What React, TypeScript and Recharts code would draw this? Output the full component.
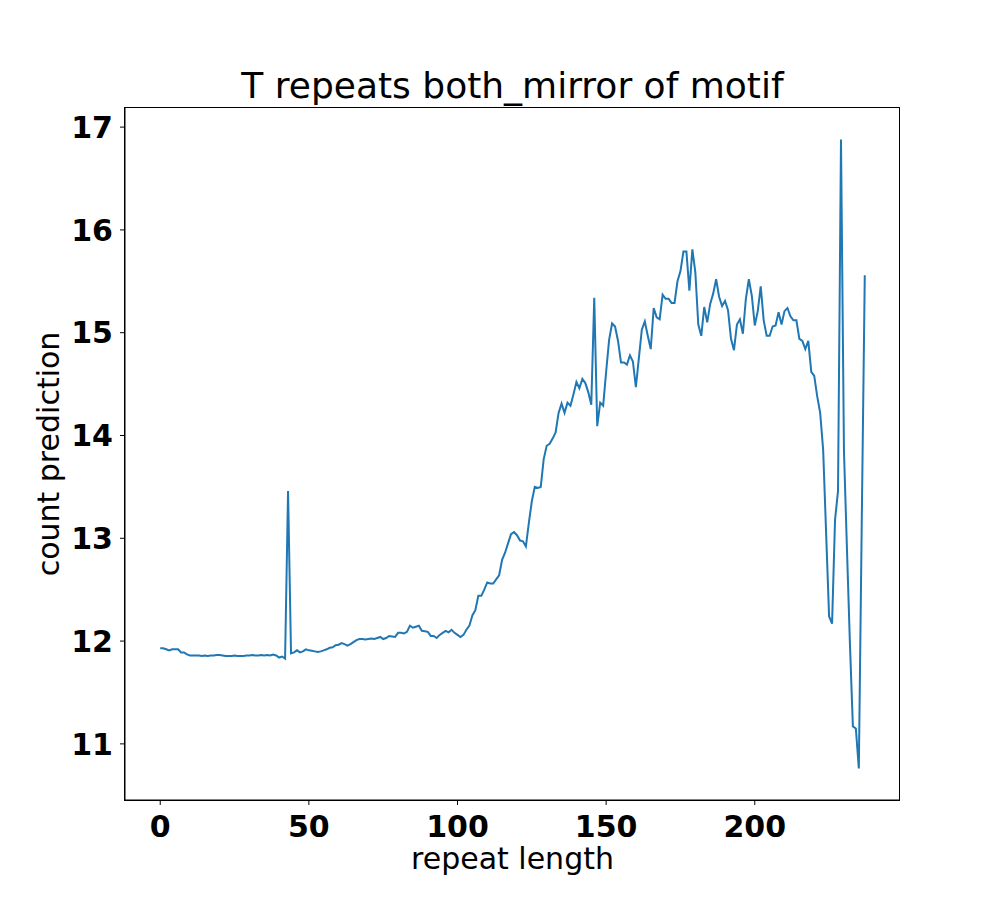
import { Label, Line, LineChart, XAxis, YAxis } from 'recharts'

const TITLE = 'T repeats both_mirror of motif'
const X_LABEL = 'repeat length'
const Y_LABEL = 'count prediction'

// model output for repeat lengths 0..237
const countPrediction = [
  11.93, 11.93, 11.92, 11.91, 11.92, 11.92, 11.92, 11.89, 11.89, 11.87,
  11.86, 11.86, 11.86, 11.86, 11.855, 11.86, 11.855, 11.86, 11.86, 11.865,
  11.865, 11.86, 11.855, 11.855, 11.855, 11.86, 11.855, 11.855, 11.855, 11.86,
  11.86, 11.865, 11.86, 11.86, 11.865, 11.86, 11.865, 11.86, 11.87, 11.86,
  11.84, 11.85, 11.83, 13.46, 11.88, 11.89, 11.91, 11.89, 11.9, 11.92,
  11.91, 11.905, 11.9, 11.895, 11.9, 11.91, 11.92, 11.935, 11.94, 11.96,
  11.965, 11.98, 11.97, 11.955, 11.97, 11.99, 12.01, 12.02, 12.02, 12.015,
  12.02, 12.025, 12.02, 12.03, 12.04, 12.02, 12.03, 12.05, 12.045, 12.04,
  12.08, 12.08, 12.075, 12.09, 12.15, 12.13, 12.14, 12.15, 12.1, 12.095,
  12.09, 12.05, 12.05, 12.03, 12.06, 12.08, 12.1, 12.085, 12.11, 12.08,
  12.06, 12.04, 12.06, 12.11, 12.15, 12.25, 12.3, 12.44, 12.44, 12.5,
  12.57, 12.56, 12.56, 12.6, 12.64, 12.79, 12.86, 12.95, 13.04, 13.06,
  13.03, 12.98, 12.97, 12.92, 13.15, 13.36, 13.5, 13.49, 13.5, 13.77,
  13.9, 13.92, 13.97, 14.03, 14.22, 14.31, 14.22, 14.32, 14.29, 14.4,
  14.52, 14.46, 14.55, 14.51, 14.42, 14.3, 15.34, 14.09, 14.32, 14.29,
  14.62, 14.93, 15.09, 15.06, 14.92, 14.71, 14.71, 14.69, 14.78, 14.72,
  14.47, 14.75, 15.03, 15.11, 14.97, 14.84, 15.24, 15.15, 15.13, 15.37,
  15.33, 15.33, 15.29, 15.29, 15.5, 15.6, 15.79, 15.79, 15.41, 15.81,
  15.59, 15.08, 14.97, 15.25, 15.1, 15.28, 15.38, 15.52, 15.35, 15.26,
  15.31, 15.22, 14.94, 14.83, 15.08, 15.13, 14.99, 15.33, 15.52, 15.36,
  15.07, 15.21, 15.45, 15.12, 14.97, 14.97, 15.06, 15.07, 15.2, 15.08,
  15.21, 15.24, 15.16, 15.12, 15.12, 14.94, 14.92, 14.84, 14.92, 14.62,
  14.58, 14.38, 14.22, 13.86, 13.05, 12.24, 12.17, 13.18, 13.46, 16.88,
  13.85, 12.9, 11.98, 11.17, 11.15, 10.76, 13.2, 15.56,
]

const xTicks = [0, 50, 100, 150, 200]
const yTicks = [11, 12, 13, 14, 15, 16, 17]

const data = countPrediction.map((value, idx) => ({ repeatLength: idx, value }))

// matplotlib-style 5% margins around the data
const pad = (lo: number, hi: number): [number, number] => {
  const m = (hi - lo) * 0.05
  return [lo - m, hi + m]
}
const xDomain = pad(0, countPrediction.length - 1)
const yDomain = pad(Math.min(...countPrediction), Math.max(...countPrediction))

const FONT = 'DejaVu Sans'
const tickStyle = { fontSize: 30, fontWeight: 'bold', fill: '#000', fontFamily: FONT }
const labelStyle = { fontSize: 30, fill: '#000', fontFamily: FONT }

// plot box: left 125, top 108, right 900, bottom 800
const PLOT = { left: 125, top: 108, width: 775, height: 692 }

export default function App() {
  return (
    <div style={{ position: 'relative', width: 1000, height: 900, background: '#fff' }}>
      <style>{'body{margin:0}'}</style>
      <div
        style={{
          position: 'absolute',
          left: PLOT.left,
          top: 68,
          width: PLOT.width,
          textAlign: 'center',
          fontFamily: FONT,
          fontSize: 36,
          lineHeight: '36px',
          color: '#000',
          whiteSpace: 'nowrap',
        }}
      >
        {TITLE}
      </div>
      <LineChart
        width={1000}
        height={900}
        data={data}
        margin={{ top: PLOT.top, right: 1000 - PLOT.left - PLOT.width, bottom: 0, left: 0 }}
      >
        <XAxis
          dataKey="repeatLength"
          type="number"
          domain={xDomain}
          ticks={xTicks}
          allowDataOverflow
          height={900 - PLOT.top - PLOT.height}
          stroke="#000"
          tickSize={5}
          tickMargin={11}
          tick={tickStyle}
        >
          <Label value={X_LABEL} position="insideBottom" offset={31} style={labelStyle} />
        </XAxis>
        <YAxis
          type="number"
          domain={yDomain}
          ticks={yTicks}
          allowDataOverflow
          width={PLOT.left}
          stroke="#000"
          tickSize={5}
          tickMargin={7}
          tick={tickStyle}
        >
          <Label value={Y_LABEL} angle={-90} position="center" dx={-14} style={labelStyle} />
        </YAxis>
        <Line
          type="linear"
          dataKey="value"
          stroke="#1f77b4"
          strokeWidth={2}
          dot={false}
          activeDot={false}
          isAnimationActive={false}
        />
      </LineChart>
      <div
        style={{
          position: 'absolute',
          left: PLOT.left - 1,
          top: PLOT.top - 1,
          width: PLOT.width + 1,
          height: PLOT.height + 2,
          border: '1px solid #000',
          boxSizing: 'border-box',
          pointerEvents: 'none',
        }}
      />
    </div>
  )
}
